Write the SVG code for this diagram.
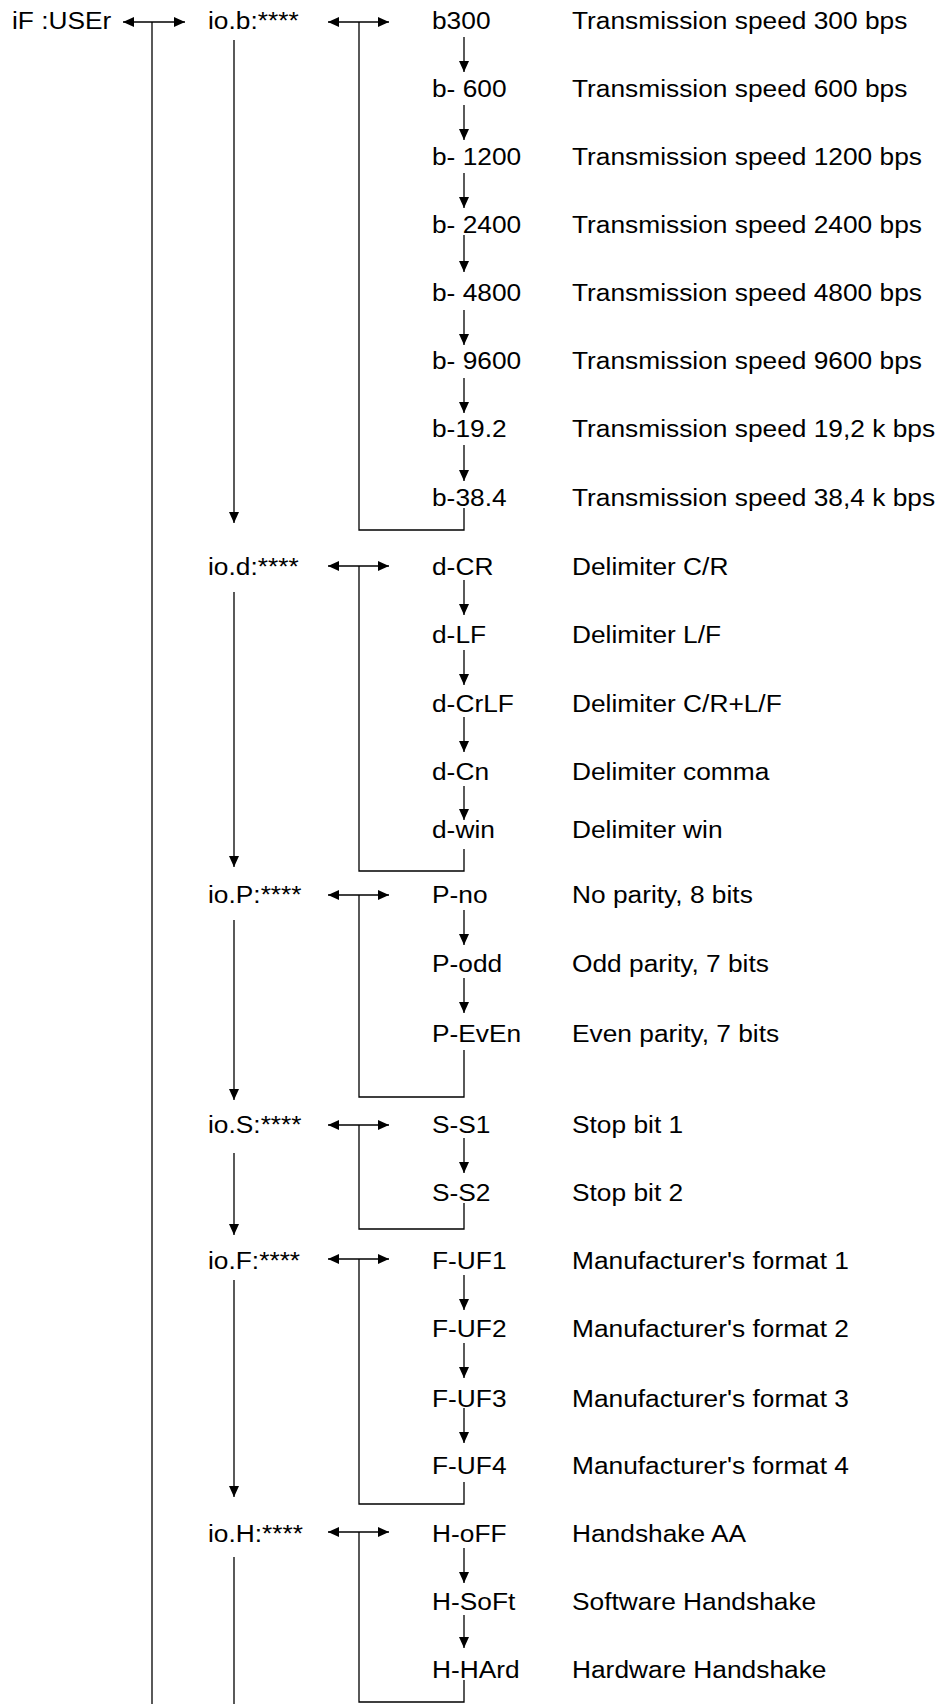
<svg xmlns="http://www.w3.org/2000/svg" width="944" height="1704" viewBox="0 0 944 1704">
<style>
text{font-family:"Liberation Sans",Arial,sans-serif;font-size:23.5px;fill:#000;transform-box:fill-box;transform-origin:0 50%;transform:scaleX(1.12)}
.ln{fill:none;stroke:#000;stroke-width:1.3}
.ar{marker-end:url(#ah)}
.da{marker-start:url(#ah);marker-end:url(#ah)}
</style>
<defs>
<marker id="ah" markerUnits="userSpaceOnUse" markerWidth="11" markerHeight="10" refX="11" refY="5" orient="auto-start-reverse" viewBox="0 0 11 10">
<path d="M0,0 L11,5 L0,10 z" fill="#000"/>
</marker>
</defs>
<rect width="944" height="1704" fill="#fff"/>
<g id="connectors">
<line class="ln da" x1="123" y1="22" x2="185" y2="22"/>
<line class="ln" x1="152" y1="22" x2="152" y2="1704"/>
<line class="ln ar" x1="234" y1="40" x2="234" y2="523"/>
<line class="ln ar" x1="234" y1="592" x2="234" y2="867"/>
<line class="ln ar" x1="234" y1="920" x2="234" y2="1100"/>
<line class="ln ar" x1="234" y1="1153" x2="234" y2="1235"/>
<line class="ln ar" x1="234" y1="1280" x2="234" y2="1497"/>
<line class="ln" x1="234" y1="1557" x2="234" y2="1704"/>
<line class="ln da" x1="328" y1="22" x2="389" y2="22"/>
<line class="ln da" x1="328" y1="566" x2="389" y2="566"/>
<line class="ln da" x1="328" y1="895" x2="389" y2="895"/>
<line class="ln da" x1="328" y1="1125" x2="389" y2="1125"/>
<line class="ln da" x1="328" y1="1259" x2="389" y2="1259"/>
<line class="ln da" x1="328" y1="1532" x2="389" y2="1532"/>
<polyline class="ln" points="359,22 359,530 464,530 464,508"/>
<polyline class="ln" points="359,566 359,871 464,871 464,849"/>
<polyline class="ln" points="359,895 359,1097 464,1097 464,1050"/>
<polyline class="ln" points="359,1125 359,1229 464,1229 464,1203"/>
<polyline class="ln" points="359,1259 359,1504 464,1504 464,1482"/>
<polyline class="ln" points="359,1532 359,1702 464,1702 464,1680"/>
<line class="ln ar" x1="464" y1="37" x2="464" y2="72"/>
<line class="ln ar" x1="464" y1="105" x2="464" y2="140"/>
<line class="ln ar" x1="464" y1="173" x2="464" y2="208"/>
<line class="ln ar" x1="464" y1="235" x2="464" y2="272"/>
<line class="ln ar" x1="464" y1="310" x2="464" y2="345"/>
<line class="ln ar" x1="464" y1="378" x2="464" y2="413"/>
<line class="ln ar" x1="464" y1="445" x2="464" y2="481"/>
<line class="ln ar" x1="464" y1="580" x2="464" y2="615"/>
<line class="ln ar" x1="464" y1="650" x2="464" y2="685"/>
<line class="ln ar" x1="464" y1="717" x2="464" y2="752"/>
<line class="ln ar" x1="464" y1="786" x2="464" y2="820"/>
<line class="ln ar" x1="464" y1="910" x2="464" y2="945"/>
<line class="ln ar" x1="464" y1="978" x2="464" y2="1013"/>
<line class="ln ar" x1="464" y1="1138" x2="464" y2="1173"/>
<line class="ln ar" x1="464" y1="1275" x2="464" y2="1310"/>
<line class="ln ar" x1="464" y1="1343" x2="464" y2="1378"/>
<line class="ln ar" x1="464" y1="1408" x2="464" y2="1443"/>
<line class="ln ar" x1="464" y1="1548" x2="464" y2="1583"/>
<line class="ln ar" x1="464" y1="1615" x2="464" y2="1648"/>
</g>
<g id="iF-USEr"><text x="12" y="29">iF :USEr</text></g>
<g id="io-b"><text x="208" y="29">io.b:****</text></g>
<g id="io-d"><text x="208" y="575">io.d:****</text></g>
<g id="io-P"><text x="208" y="903">io.P:****</text></g>
<g id="io-S"><text x="208" y="1133">io.S:****</text></g>
<g id="io-F"><text x="208" y="1269">io.F:****</text></g>
<g id="io-H"><text x="208" y="1542">io.H:****</text></g>
<g id="b300"><text x="432" y="29">b300</text><text x="572" y="29">Transmission speed 300 bps</text></g>
<g id="b600"><text x="432" y="97">b- 600</text><text x="572" y="97">Transmission speed 600 bps</text></g>
<g id="b1200"><text x="432" y="165">b- 1200</text><text x="572" y="165">Transmission speed 1200 bps</text></g>
<g id="b2400"><text x="432" y="233">b- 2400</text><text x="572" y="233">Transmission speed 2400 bps</text></g>
<g id="b4800"><text x="432" y="301">b- 4800</text><text x="572" y="301">Transmission speed 4800 bps</text></g>
<g id="b9600"><text x="432" y="369">b- 9600</text><text x="572" y="369">Transmission speed 9600 bps</text></g>
<g id="b19"><text x="432" y="437">b-19.2</text><text x="572" y="437">Transmission speed 19,2 k bps</text></g>
<g id="b38"><text x="432" y="506">b-38.4</text><text x="572" y="506">Transmission speed 38,4 k bps</text></g>
<g id="d-CR"><text x="432" y="575">d-CR</text><text x="572" y="575">Delimiter C/R</text></g>
<g id="d-LF"><text x="432" y="643">d-LF</text><text x="572" y="643">Delimiter L/F</text></g>
<g id="d-CrLF"><text x="432" y="712">d-CrLF</text><text x="572" y="712">Delimiter C/R+L/F</text></g>
<g id="d-Cn"><text x="432" y="780">d-Cn</text><text x="572" y="780">Delimiter comma</text></g>
<g id="d-win"><text x="432" y="838">d-win</text><text x="572" y="838">Delimiter win</text></g>
<g id="P-no"><text x="432" y="903">P-no</text><text x="572" y="903">No parity, 8 bits</text></g>
<g id="P-odd"><text x="432" y="972">P-odd</text><text x="572" y="972">Odd parity, 7 bits</text></g>
<g id="P-EvEn"><text x="432" y="1042">P-EvEn</text><text x="572" y="1042">Even parity, 7 bits</text></g>
<g id="S-S1"><text x="432" y="1133">S-S1</text><text x="572" y="1133">Stop bit 1</text></g>
<g id="S-S2"><text x="432" y="1201">S-S2</text><text x="572" y="1201">Stop bit 2</text></g>
<g id="F-UF1"><text x="432" y="1269">F-UF1</text><text x="572" y="1269">Manufacturer's format 1</text></g>
<g id="F-UF2"><text x="432" y="1337">F-UF2</text><text x="572" y="1337">Manufacturer's format 2</text></g>
<g id="F-UF3"><text x="432" y="1407">F-UF3</text><text x="572" y="1407">Manufacturer's format 3</text></g>
<g id="F-UF4"><text x="432" y="1474">F-UF4</text><text x="572" y="1474">Manufacturer's format 4</text></g>
<g id="H-oFF"><text x="432" y="1542">H-oFF</text><text x="572" y="1542">Handshake AA</text></g>
<g id="H-SoFt"><text x="432" y="1610">H-SoFt</text><text x="572" y="1610">Software Handshake</text></g>
<g id="H-HArd"><text x="432" y="1678">H-HArd</text><text x="572" y="1678">Hardware Handshake</text></g>
</svg>
